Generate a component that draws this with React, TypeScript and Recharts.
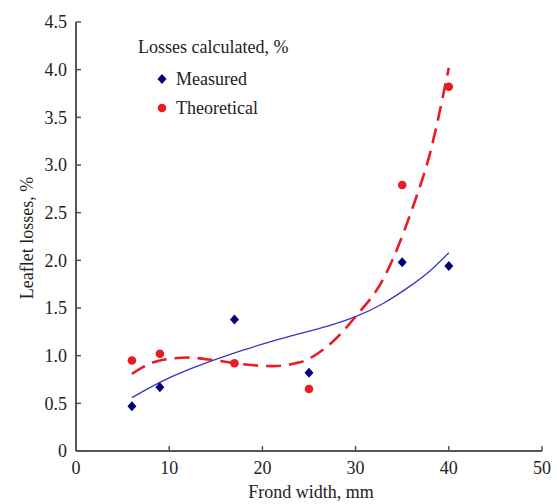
import { ComposedChart, Line, Scatter, XAxis, YAxis } from 'recharts';

const frondWidth = [6, 9, 17, 25, 35, 40];
const measured = [0.47, 0.67, 1.38, 0.82, 1.98, 1.94];
const theoretical = [0.95, 1.02, 0.92, 0.65, 2.79, 3.82];

// trend lines
const trendX = [6, 9, 12, 15, 18, 21, 24, 27, 30, 33, 36, 38, 40];
const measuredTrend = [0.56, 0.72, 0.85, 0.96, 1.06, 1.15, 1.23, 1.31, 1.41, 1.55, 1.74, 1.89, 2.08];
const theoreticalTrend = [0.81, 0.95, 0.98, 0.95, 0.91, 0.89, 0.93, 1.1, 1.41, 1.81, 2.52, 3.13, 4.02];

const xTicks = [0, 10, 20, 30, 40, 50];
const yTicks = [0, 0.5, 1, 1.5, 2, 2.5, 3, 3.5, 4, 4.5];

const NAVY = '#00007a';
const BLUE = '#3535cc';
const RED = '#e81c24';
const AXIS = '#555';
const FONT = '"Liberation Serif", "Times New Roman", serif';

const measuredPts = frondWidth.map((x, i) => ({ x, y: measured[i] }));
const theoreticalPts = frondWidth.map((x, i) => ({ x, y: theoretical[i] }));
const measuredLine = trendX.map((x, i) => ({ x, y: measuredTrend[i] }));
const theoreticalLine = trendX.map((x, i) => ({ x, y: theoreticalTrend[i] }));

const Diamond = (props: any) => {
  const { cx, cy } = props;
  return <path d={`M${cx},${cy - 5} L${cx + 4.5},${cy} L${cx},${cy + 5} L${cx - 4.5},${cy} Z`} fill={NAVY} />;
};

const Dot = (props: any) => <circle cx={props.cx} cy={props.cy} r={4.3} fill={RED} />;

const tickStyle = { fontFamily: FONT, fontSize: 18, fill: '#222' };

export default function App() {
  return (
    <div style={{ position: 'absolute', left: 0, top: 0, width: 557, height: 504, background: '#fff', fontFamily: FONT }}>
      <ComposedChart width={557} height={504} margin={{ top: 22, right: 15, left: 16, bottom: 0 }}>
        <XAxis
          type="number"
          dataKey="x"
          domain={[0, 50]}
          ticks={xTicks}
          height={53}
          tickSize={-5}
          tickMargin={15}
          tick={tickStyle}
          axisLine={{ stroke: AXIS, strokeWidth: 2 }}
          tickLine={{ stroke: AXIS, strokeWidth: 1.5 }}
          allowDataOverflow
        />
        <YAxis
          type="number"
          dataKey="y"
          domain={[0, 4.5]}
          ticks={yTicks}
          width={60}
          tickSize={-5}
          tickMargin={14}
          tick={tickStyle}
          tickFormatter={(v: number) => (v === 0 ? '0' : v.toFixed(1))}
          axisLine={{ stroke: AXIS, strokeWidth: 2 }}
          tickLine={{ stroke: AXIS, strokeWidth: 1.5 }}
          allowDataOverflow
        />
        <Line data={measuredLine} dataKey="y" type="natural" stroke={BLUE} strokeWidth={1.3} dot={false} isAnimationActive={false} />
        <Line data={theoreticalLine} dataKey="y" type="monotone" stroke={RED} strokeWidth={2.6} strokeDasharray="15 8" dot={false} isAnimationActive={false} />
        <Scatter data={measuredPts} dataKey="y" shape={Diamond} isAnimationActive={false} />
        <Scatter data={theoreticalPts} dataKey="y" shape={Dot} isAnimationActive={false} />
      </ComposedChart>

      <div style={{ position: 'absolute', left: 138, top: 36, fontSize: 18, color: '#222', whiteSpace: 'nowrap', lineHeight: '22px' }}>
        Losses calculated, %
      </div>
      <svg style={{ position: 'absolute', left: 150, top: 68 }} width={24} height={50}>
        <path d="M12,6 L16.5,11 L12,16 L7.5,11 Z" fill={NAVY} />
        <circle cx={12} cy={40} r={4.3} fill={RED} />
      </svg>
      <div style={{ position: 'absolute', left: 176, top: 68, fontSize: 18, color: '#222', whiteSpace: 'nowrap', lineHeight: '22px' }}>
        Measured
      </div>
      <div style={{ position: 'absolute', left: 176, top: 97, fontSize: 18, color: '#222', whiteSpace: 'nowrap', lineHeight: '22px' }}>
        Theoretical
      </div>

      <div style={{ position: 'absolute', left: 211, top: 481, width: 200, textAlign: 'center', fontSize: 18, color: '#222', lineHeight: '22px' }}>
        Frond width, mm
      </div>
      <div
        style={{
          position: 'absolute',
          left: 27 - 100,
          top: 238 - 11,
          width: 200,
          textAlign: 'center',
          fontSize: 18,
          color: '#222',
          lineHeight: '22px',
          transform: 'rotate(-90deg)',
          transformOrigin: '100px 11px',
        }}
      >
        Leaflet losses, %
      </div>
    </div>
  );
}
